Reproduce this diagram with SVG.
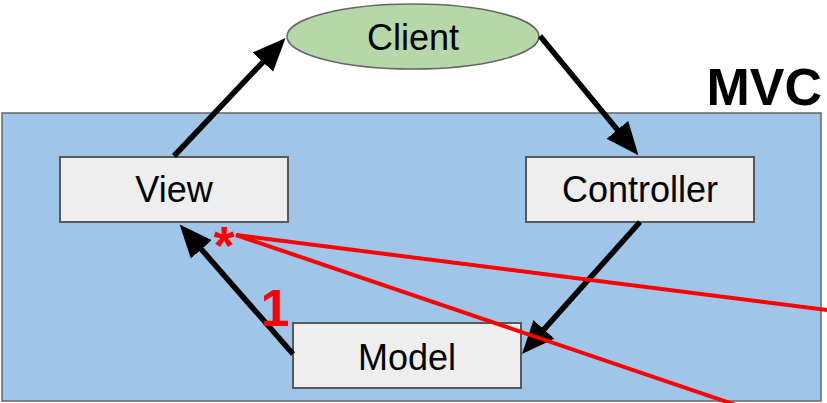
<svg xmlns="http://www.w3.org/2000/svg" width="827" height="403" viewBox="0 0 827 403">
<defs>
<style>
.lbl{font-family:"Liberation Sans",Arial,sans-serif;font-size:36px;fill:#000;text-anchor:middle}
.box{fill:#eeeeee;stroke:#595959;stroke-width:2}
.arr{fill:none;stroke:#000;stroke-width:5.5;marker-end:url(#ah)}
.red{stroke:#ff0000;stroke-width:4;fill:none}
.redt{font-family:"Liberation Sans",Arial,sans-serif;font-weight:bold;fill:#ff0000;text-anchor:middle}
</style>
<marker id="ah" markerUnits="userSpaceOnUse" markerWidth="36" markerHeight="30" refX="22" refY="15" orient="auto" viewBox="0 0 36 30">
<path d="M0,1 L33,15 L0,29 z" fill="#000"/>
</marker>
</defs>
<rect width="827" height="403" fill="#fff"/>
<g id="mvc">
<rect x="2" y="113" width="819" height="288" fill="#9fc5e8" stroke="#666" stroke-width="1.5"/>
<text x="822" y="105" font-family="'Liberation Sans',Arial,sans-serif" font-weight="bold" font-size="52" text-anchor="end">MVC</text>
</g>
<g id="client">
<ellipse cx="413" cy="36.5" rx="126" ry="32.5" fill="#b6d7a8" stroke="#666" stroke-width="1.5"/>
<text class="lbl" x="413" y="50">Client</text>
</g>
<g id="view">
<rect class="box" x="60" y="157" width="228" height="65"/>
<text class="lbl" x="174" y="202">View</text>
</g>
<g id="controller">
<rect class="box" x="526" y="157" width="228" height="65"/>
<text class="lbl" x="640" y="202">Controller</text>
</g>
<g id="model">
<rect class="box" x="293" y="323" width="228" height="65" stroke="#1a1a1a"/>
<text class="lbl" x="407" y="370">Model</text>
</g>
<g id="connectors">
<path class="arr" d="M174,156 L278,46.1"/>
<path class="arr" d="M540,36 L631.4,146.8"/>
<path class="arr" d="M640,222 L529.3,345.8"/>
<path class="arr" d="M293,354 L186.9,232.8"/>
<path class="red" d="M236,235 L830,310.4"/>
<path class="red" d="M236,235 L740,406.4"/>
</g>
<g id="annotations">
<text class="redt" x="224" y="264" font-size="54">*</text>
<text class="redt" x="275" y="326" font-size="52">1</text>
</g>
</svg>
